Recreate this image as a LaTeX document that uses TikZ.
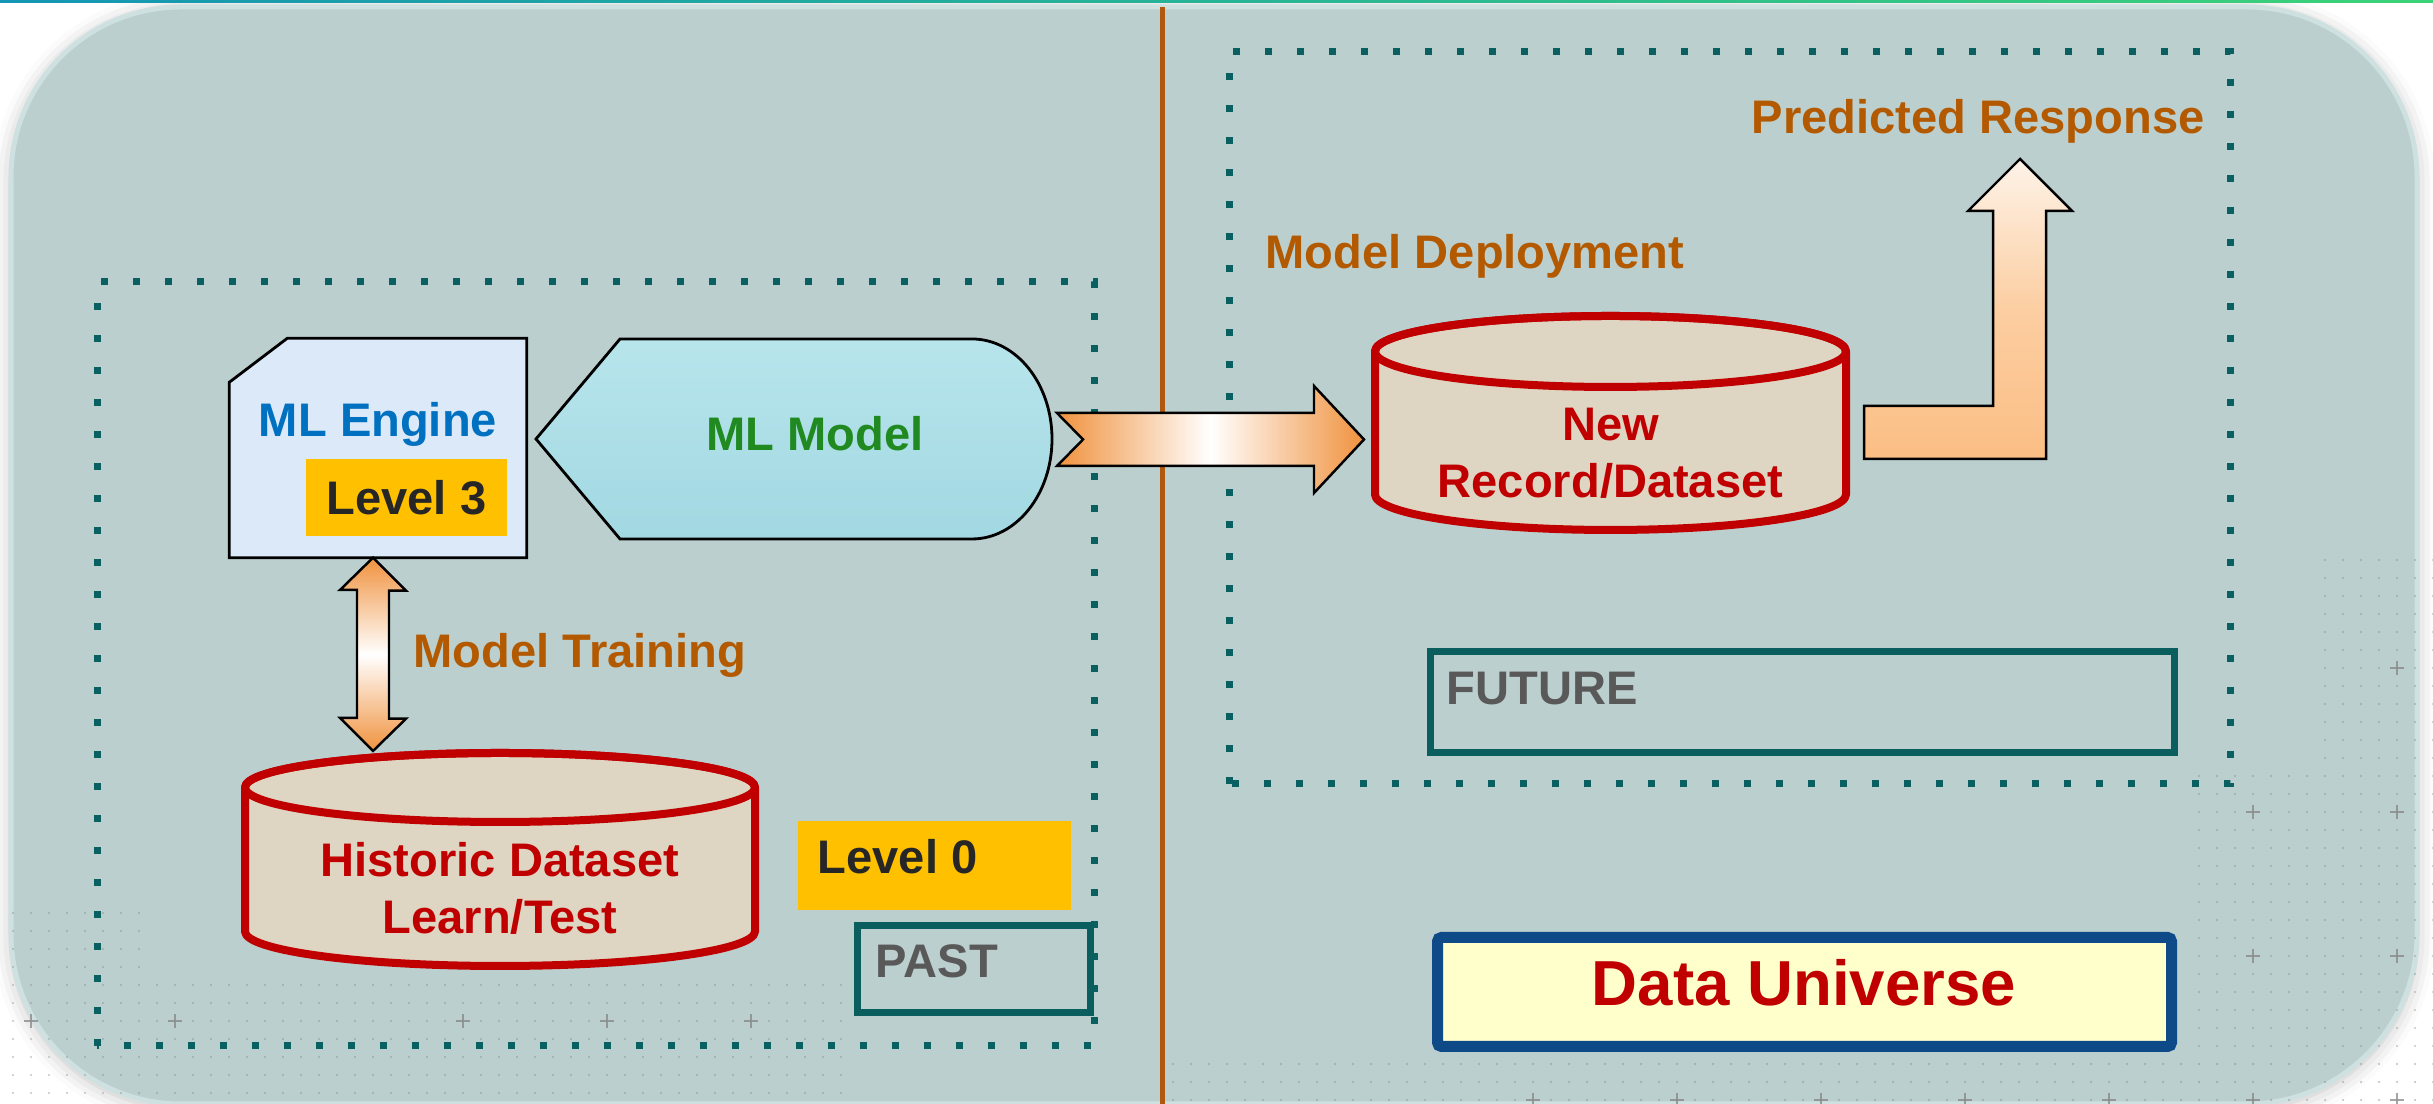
\documentclass[tikz,border=0pt]{standalone}
\usepackage{fontspec}
\setmainfont{Liberation Sans}
\usetikzlibrary{calc,shadows.blur}

\definecolor{panelbg}{RGB}{187,207,206}
\definecolor{paneledge}{RGB}{206,224,224}
\definecolor{frameteal}{RGB}{10,96,96}
\definecolor{divbrown}{RGB}{176,88,16}
\definecolor{labbrown}{RGB}{179,89,0}
\definecolor{dbred}{RGB}{192,0,0}
\definecolor{dbfill}{RGB}{222,213,195}
\definecolor{engblue}{RGB}{0,112,192}
\definecolor{engfill}{RGB}{220,233,248}
\definecolor{mdlgreen}{RGB}{32,138,32}
\definecolor{mdltop}{RGB}{184,229,236}
\definecolor{mdlbot}{RGB}{162,216,226}
\definecolor{lvlgold}{RGB}{255,192,0}
\definecolor{lvltext}{RGB}{38,38,38}
\definecolor{tagtext}{RGB}{89,89,89}
\definecolor{tagteal}{RGB}{11,94,94}
\definecolor{arrorange}{RGB}{240,146,62}
\definecolor{respcream}{RGB}{253,243,232}
\definecolor{respmid}{RGB}{252,206,162}
\definecolor{resppeach}{RGB}{251,190,132}
\definecolor{navyedge}{RGB}{13,74,135}
\definecolor{uniyellow}{RGB}{255,255,204}

\begin{document}
\begin{tikzpicture}[
  txt/.style={font=\bfseries\fontsize{13.4}{16.2}\selectfont, inner sep=0pt},
  zone/.style={frameteal, line width=0.07cm, dash pattern=on 0.07cm off 0.25cm},
  db/.style={draw=dbred, line width=0.08cm, line join=round},
  blockarrow/.style={draw=black, line width=0.7pt, line join=miter},
  tagframe/.style={draw=tagteal, line width=0.07cm, inner sep=0pt},
  griddot/.style={fill=gray, opacity=0.45},
  gridplus/.style={draw=gray, opacity=0.7, line width=0.02cm},
]
\useasboundingbox (0,0) rectangle (24.33,11.04);

% ---- backdrop panel
\path[fill=panelbg, rounded corners=1.7cm,
  blur shadow={shadow xshift=0pt, shadow yshift=-1pt, shadow blur radius=5pt, shadow opacity=25}]
  (0.11,0) rectangle (24.17,10.97);
\draw[paneledge, line width=0.05cm, rounded corners=1.7cm] (0.11,0) rectangle (24.17,10.97);
\shade[left color={rgb,255:red,20;green,150;blue,180}, right color={rgb,255:red,60;green,210;blue,120}]
  (0,11.01) rectangle (24.33,11.04);

% ---- dot grid texture
\foreach \x in {0.13,0.31,...,8.5}
  \foreach \y in {0.11,0.29,...,1.2} {\fill[griddot] (\x,\y) circle (0.012);}
\foreach \x in {0.13,0.31,...,1.4}
  \foreach \y in {1.37,1.55,...,2.0} {\fill[griddot] (\x,\y) circle (0.012);}
\foreach \x in {11.73,11.91,...,24.34}
  \foreach \y in {0.04,0.22,0.40} {\fill[griddot] (\x,\y) circle (0.012);}
\foreach \x in {21.99,22.17,...,24.34}
  \foreach \y in {0.58,0.76,...,3.3} {\fill[griddot] (\x,\y) circle (0.012);}
\foreach \x in {23.25,23.43,...,24.34}
  \foreach \y in {3.46,3.64,...,5.45} {\fill[griddot] (\x,\y) circle (0.012);}
\foreach \p in {(0.31,0.83),(1.75,0.83),(4.63,0.83),(6.07,0.83),(7.51,0.83),
                (15.33,0.04),(16.77,0.04),(18.21,0.04),(19.65,0.04),(21.09,0.04),(22.53,0.04),(23.97,0.04),
                (22.53,1.48),(23.97,1.48),(22.53,2.92),(23.97,2.92),(23.97,4.36)}
  {\draw[gridplus] \p ++(-0.07,0) -- ++(0.14,0) \p ++(0,-0.07) -- ++(0,0.14);}

% ---- past / future divider and zones
\draw[divbrown, line width=0.05cm] (11.62,10.97) -- (11.62,0);
\draw[zone] (0.97,0.58) rectangle (10.94,8.22);
\draw[zone] (12.29,3.20) rectangle (22.30,10.52);

% ---- engine (snipped corner) and model
\node[minimum width=2.96cm, minimum height=2.18cm, inner sep=0pt] (engine) at (3.78,6.56) {};
\draw[black, line width=0.8pt, fill=engfill]
  ($(engine.north west)+(0.58,0)$) -- (engine.north east) -- (engine.south east)
  -- (engine.south west) -- ($(engine.north west)+(0,-0.44)$) -- cycle;
\node[txt, engblue, anchor=base] (engine-lbl) at (3.78,6.67) {ML Engine};
\node[txt, lvltext, fill=lvlgold, minimum width=2.01cm, minimum height=0.77cm] (lvl3) at (4.065,6.065) {Level 3};

\draw[black, line width=0.8pt, top color=mdltop, bottom color=mdlbot]
  (5.36,6.65) -- (6.20,7.65) -- (9.72,7.65)
  arc[start angle=90, end angle=-90, x radius=0.80, y radius=1.0] -- (6.20,5.65) -- cycle;
\node[txt, mdlgreen, anchor=base] (model) at (8.15,6.53) {ML Model};
\coordinate (model-tip) at (10.52,6.645);

% ---- historic dataset
\filldraw[db, fill=dbfill] (2.45,3.165) -- (2.45,1.725)
  arc[start angle=180, end angle=360, x radius=2.55, y radius=0.345] -- (7.55,3.165)
  arc[start angle=0, end angle=180, x radius=2.55, y radius=0.345] -- cycle;
\draw[db] (5.00,3.165) ellipse[x radius=2.55, y radius=0.345];
\coordinate (hist-top) at (5.00,3.53);
\node[txt, dbred, align=center] (hist) at (5.00,2.155) {Historic Dataset\\Learn/Test};

% ---- new record
\filldraw[db, fill=dbfill] (13.75,7.525) -- (13.75,6.095)
  arc[start angle=180, end angle=360, x radius=2.355, y radius=0.355] -- (18.46,7.525)
  arc[start angle=0, end angle=180, x radius=2.355, y radius=0.355] -- cycle;
\draw[db] (16.105,7.525) ellipse[x radius=2.355, y radius=0.355];
\coordinate (newrec-w) at (13.64,6.645);
\coordinate (newrec-e) at (18.64,6.715);
\node[txt, dbred, align=center] (newrec) at (16.105,6.505) {New\\Record/Dataset};

% ---- block arrows
\coordinate (train-top) at ($(engine.south)+(-0.05,0)$);
\coordinate (train-bot) at (train-top |- hist-top);
\draw[blockarrow, top color=arrorange, bottom color=arrorange, middle color=white]
  (train-top) -- ++(0.33,-0.33) -- ++(-0.17,0) -- ++(0,-1.28) -- ++(0.17,0) -- (train-bot)
  -- ++(-0.33,0.33) -- ++(0.17,0) -- ++(0,1.28) -- ++(-0.17,0) -- cycle;

\coordinate (deploy-from) at ($(model-tip)+(0.05,0)$);
\draw[blockarrow, left color=arrorange, right color=arrorange, middle color=white]
  (deploy-from) ++(0,0.265) -- ++(2.57,0) -- ++(0,0.27) -- (newrec-w)
  -- ++(-0.50,-0.535) -- ++(0,0.27) -- ++(-2.57,0) -- ++(0.26,0.265) -- cycle;

\coordinate (resp-tip) at (20.20,9.45);
\draw[blockarrow, top color=respcream, bottom color=resppeach, middle color=respmid]
  (newrec-e) ++(0,0.265) -- ++(1.29,0) -- ++(0,1.95) -- ++(-0.25,0) -- (resp-tip)
  -- ++(0.52,-0.52) -- ++(-0.26,0) -- ++(0,-2.48) -- ++(-1.82,0) -- cycle;

% ---- captions
\node[txt, labbrown, anchor=base west] (training) at (4.13,4.36) {Model Training};
\node[txt, labbrown, anchor=base west] (deploy) at (12.65,8.35) {Model Deployment};
\node[txt, labbrown, anchor=base west] (response) at (17.51,9.70) {Predicted Response};

% ---- level and era tags
\node[fill=lvlgold, minimum width=2.73cm, minimum height=0.89cm, inner sep=0pt] (lvl0) at (9.345,2.385) {};
\node[txt, lvltext, anchor=base west] (lvl0-lbl) at (8.17,2.30) {Level 0};
\node[tagframe, minimum width=2.33cm, minimum height=0.87cm] (past) at (9.735,1.345) {};
\node[txt, tagtext, anchor=base west] (past-lbl) at (8.75,1.26) {PAST};
\node[tagframe, minimum width=7.44cm, minimum height=1.01cm] (future) at (18.02,4.015) {};
\node[txt, tagtext, anchor=base west] (future-lbl) at (14.46,3.99) {FUTURE};

% ---- universe banner
\node[draw=navyedge, line width=0.11cm, fill=uniyellow, rounded corners=0.04cm,
  minimum width=7.34cm, minimum height=1.09cm, inner sep=0pt] (universe) at (18.045,1.12) {};
\node[txt, font=\bfseries\fontsize{18.1}{21}\selectfont, dbred, anchor=base] (universe-lbl) at (18.04,0.98) {Data Universe};
\end{tikzpicture}
\end{document}
